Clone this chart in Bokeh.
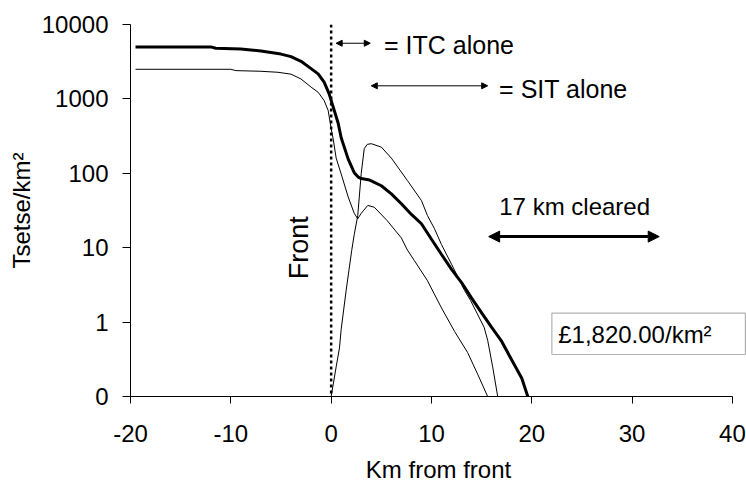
from math import pi

import numpy as np
from bokeh.embed import file_html
from bokeh.models import (Arrow, BoxAnnotation, CustomJSTickFormatter, FixedTicker,
                          Label, NormalHead, Range1d, Span)
from bokeh.plotting import figure
from bokeh.resources import INLINE

FONT = "Liberation Sans"
FS = "24px"

# Heavy curve: tsetse density across the advancing front
heavy_km = [-19.5, -12, -11.5, -9, -7, -5, -4, -3, -2, -1.3, -0.7, -0.2, 0.2, 0.7, 1.0,
            1.7, 2.3, 2.7, 3.0, 3.7, 4.0, 5.0, 6.0, 7.0, 8.0, 9.0, 10.0, 11.0, 12.0,
            13.0, 14.0, 15.0, 16.0, 17.0, 18.0, 19.0, 19.6]
heavy_density = [5000, 5000, 4800, 4700, 4400, 4000, 3700, 3200, 2550, 2170, 1680, 1170,
                 780, 470, 300, 155, 102, 89, 85, 82, 79, 68, 53, 39, 28, 21, 13, 8.1,
                 5.1, 3.4, 2.1, 1.33, 0.85, 0.55, 0.31, 0.176, 0]

# Thin curve starting at 2,500/km2
upper_km = [-19.5, -10, -9.5, -7, -5.3, -4, -3, -2, -1.3, -0.7, -0.3, 0.0, 0.2, 0.5, 1.0,
            1.7, 2.3, 2.65, 3.0, 3.65, 4.3, 5.6, 7.0, 7.6, 8.3, 9.6, 11.0, 12.3, 13.6,
            14.6, 15.6]
upper_density = [2500, 2500, 2400, 2350, 2280, 2150, 1850, 1440, 1230, 950, 700, 400, 290,
                 160, 98, 48, 29, 24.5, 29, 37, 35, 23, 13.5, 9.3, 6.7, 3.6, 1.55, 0.75,
                 0.39, 0.2, 0]

# Thin curve rising from zero at the front
rising_km = [0, 0.5, 0.83, 1.0, 1.5, 2.05, 2.3, 2.65, 3.0, 3.3, 3.6, 4.0, 5.0, 6.0, 7.6,
             9.0, 9.6, 10.3, 11.0, 12.0, 13.3, 13.9, 15.25, 15.6, 16.1, 16.6]
rising_density = [0, 0.25, 0.45, 0.8, 2.7, 9.2, 15, 27, 100, 215, 245, 250, 225, 160, 80,
                  43, 27, 18, 11, 6, 2.66, 1.95, 0.85, 0.57, 0.25, 0]

x_ticks = [-20, -10, 0, 10, 20, 30, 40]
y_ticks = [0.1, 1, 10, 100, 1000, 10000]
AXIS_FLOOR = 0.1  # the "0" row of the log axis

cleared_km = 17
cleared_start = 15.7


def on_axis(vals):
    return np.maximum(np.asarray(vals, dtype=float), AXIS_FLOOR)


p = figure(width=746, height=485, x_range=Range1d(-20, 41.4),
           y_range=Range1d(AXIS_FLOOR, 10000), y_axis_type="log",
           output_backend="svg", toolbar_location=None,
           min_border_left=130, min_border_right=0, min_border_top=24,
           min_border_bottom=89)
p.outline_line_color = None
p.xgrid.visible = False
p.ygrid.visible = False
p.background_fill_color = "white"
p.border_fill_color = "white"

for ax in (p.xaxis, p.yaxis):
    ax.axis_line_color = "black"
    ax.axis_line_width = 1
    ax.major_tick_line_color = "black"
    ax.major_tick_in = 0
    ax.minor_tick_line_color = None
    ax.major_label_text_font = FONT
    ax.major_label_text_font_size = FS
    ax.major_label_text_color = "black"
    ax.axis_label_text_font = FONT
    ax.axis_label_text_font_size = FS
    ax.axis_label_text_font_style = "normal"
    ax.axis_label_text_color = "black"

p.xaxis.ticker = FixedTicker(ticks=x_ticks)
p.xaxis.bounds = (x_ticks[0], x_ticks[-1])
p.xaxis.major_tick_out = 7
p.xaxis.major_label_standoff = 21
p.xaxis.formatter = CustomJSTickFormatter(code="return String(tick);")
p.xaxis.axis_label = "Km from front"
p.xaxis.axis_label_standoff = 11

p.yaxis.ticker = FixedTicker(ticks=y_ticks, minor_ticks=[])
p.yaxis.major_tick_out = 8
p.yaxis.major_label_standoff = 14
p.yaxis.formatter = CustomJSTickFormatter(
    code="return tick < 0.5 ? '0' : tick.toFixed(0);")
p.yaxis.axis_label = "Tsetse/km²"
p.yaxis.axis_label_standoff = 4

# the front itself
p.add_layout(Span(location=0, dimension="height", line_color="black",
                  line_width=2.5, line_dash="3 3"))

p.line(upper_km, on_axis(upper_density), line_color="black", line_width=1)
p.line(rising_km, on_axis(rising_density), line_color="black", line_width=1)
p.line(heavy_km, on_axis(heavy_density), line_color="black", line_width=3)


def head(size, w):
    return NormalHead(size=size, fill_color="black", line_color="black", line_width=w)


p.add_layout(Arrow(start=head(6, 1), end=head(6, 1), x_start=0.5, y_start=5600,
                   x_end=3.9, y_end=5600, line_color="black", line_width=1))
p.add_layout(Arrow(start=head(6, 1), end=head(6, 1), x_start=4.0, y_start=1500,
                   x_end=15.6, y_end=1500, line_color="black", line_width=1))
p.add_layout(Arrow(start=head(11, 1), end=head(11, 1), x_start=cleared_start,
                   y_start=14.1, x_end=cleared_start + cleared_km, y_end=14.1,
                   line_color="black", line_width=3))

p.add_layout(BoxAnnotation(left=22.0, right=41.29, bottom=0.367, top=1.324,
                           fill_color="white", fill_alpha=1, line_color="black",
                           line_width=1.2))


def label(x, y, text, align="left", angle=0.0, size=FS):
    p.add_layout(Label(x=x, y=y, text=text, text_font=FONT, text_font_size=size,
                       text_color="black", text_align=align, text_baseline="middle",
                       angle=angle))


label(5.27, 5300, "= ITC alone", size="25px")
label(16.74, 1370, "= SIT alone", size="25px")
label(24.27, 36.3, f"{cleared_km} km cleared", align="center")
label(22.63, 0.69, "£1,820.00/km²")
label(-3.16, 10, "Front", align="center", angle=pi / 2, size="27px")

open("out.html", "w").write(file_html(p, INLINE))
